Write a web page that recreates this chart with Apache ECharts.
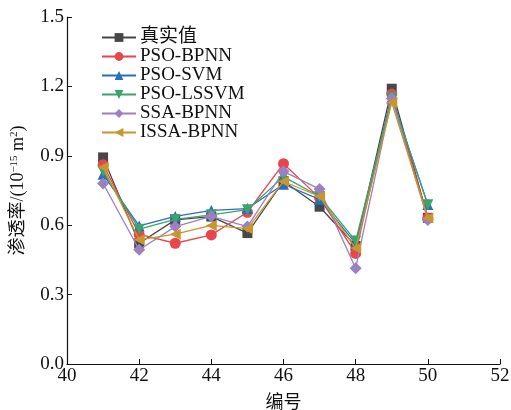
<!DOCTYPE html>
<html>
<head>
<meta charset="utf-8">
<script src="https://cdn.jsdelivr.net/npm/echarts@6/dist/echarts.min.js"></script>
<style>
  html, body { margin: 0; padding: 0; background: #fff; }
  #chart { width: 511px; height: 410px; }
</style>
</head>
<body>
<div id="chart"></div>
<script>
// 编号
var ids = [41, 42, 43, 44, 45, 46, 47, 48, 49, 50];
var yTicks = [0, 0.3, 0.6, 0.9, 1.2, 1.5];

var names = ['真实值', 'PSO-BPNN', 'PSO-SVM', 'PSO-LSSVM', 'SSA-BPNN', 'ISSA-BPNN'];
var realVal  = [0.893, 0.522, 0.623, 0.637, 0.566, 0.790, 0.680, 0.510, 1.190, 0.632];
var psoBpnn  = [0.861, 0.560, 0.522, 0.558, 0.656, 0.866, 0.718, 0.478, 1.167, 0.630];
var psoSvm   = [0.820, 0.597, 0.638, 0.664, 0.672, 0.777, 0.712, 0.520, 1.150, 0.690];
var psoLssvm = [0.833, 0.583, 0.625, 0.645, 0.667, 0.810, 0.724, 0.532, 1.152, 0.688];
var ssaBpnn  = [0.780, 0.494, 0.594, 0.638, 0.594, 0.833, 0.756, 0.414, 1.148, 0.622];
var issaBpnn = [0.850, 0.537, 0.561, 0.599, 0.585, 0.789, 0.724, 0.500, 1.130, 0.631];

var allData = [realVal, psoBpnn, psoSvm, psoLssvm, ssaBpnn, issaBpnn];
var colors = ['#474747', '#e8464a', '#2a6ebb', '#3aa36e', '#9b80c2', '#c8962c'];
var symbols = ['rect', 'circle', 'triangle', 'triangle', 'diamond', 'triangle'];
var rotates = [0, 0, 0, 180, 0, 90];
var sizes = [10, 11, 11, 11, 12, 11];

var serif = '"Liberation Serif", "Noto Sans CJK SC", serif';

var series = names.map(function (n, i) {
    return {
        name: n,
        type: 'line',
        data: ids.map(function (x, j) { return [x, allData[i][j]]; }),
        symbol: symbols[i],
        symbolSize: sizes[i],
        symbolRotate: rotates[i],
        lineStyle: { color: colors[i], width: 1.3 },
        itemStyle: { color: colors[i] },
        z: 2 + i
    };
});

var myChart = echarts.init(document.getElementById('chart'));
myChart.setOption({
    backgroundColor: '#fff',
    animation: false,
    textStyle: { fontFamily: serif },
    grid: { left: 67, right: 11, top: 17, bottom: 46, containLabel: false, outerBoundsMode: 'none' },
    legend: {
        orient: 'vertical',
        left: 96,
        top: 23,
        itemWidth: 34,
        itemHeight: 11,
        itemGap: 0,
        textStyle: { fontFamily: serif, fontSize: 19, lineHeight: 18, color: '#111', padding: [0, 0, 0, -1] },
        data: names
    },
    xAxis: {
        type: 'value',
        min: 40,
        max: 52,
        interval: 2,
        name: '编号',
        nameLocation: 'middle',
        nameGap: 30,
        nameTextStyle: { fontFamily: serif, fontSize: 18, color: '#111' },
        axisLine: { lineStyle: { color: '#111', width: 1.2 } },
        axisTick: { inside: true, length: 5, lineStyle: { color: '#111' } },
        axisLabel: { fontFamily: serif, fontSize: 19, color: '#111', margin: 3 },
        splitLine: { show: false }
    },
    yAxis: {
        type: 'value',
        min: yTicks[0],
        max: yTicks[yTicks.length - 1],
        interval: 0.3,
        name: '{a|渗透率/(10}{s|−15}{a| m}{s|2}{a|)}',
        nameLocation: 'middle',
        nameGap: 39,
        nameTextStyle: {
            rich: {
                a: { fontFamily: serif, fontSize: 18, color: '#111' },
                s: { fontFamily: serif, fontSize: 11, color: '#111', verticalAlign: 'top', padding: [0, 0, 8, 0] }
            }
        },
        axisLine: { show: true, lineStyle: { color: '#111', width: 1.2 } },
        axisTick: { show: true, inside: true, length: 5, lineStyle: { color: '#111' } },
        axisLabel: {
            fontFamily: serif, fontSize: 19, color: '#111', margin: 3,
            formatter: function (v) { return v.toFixed(1); }
        },
        splitLine: { show: false }
    },
    series: series
});
</script>
</body>
</html>
